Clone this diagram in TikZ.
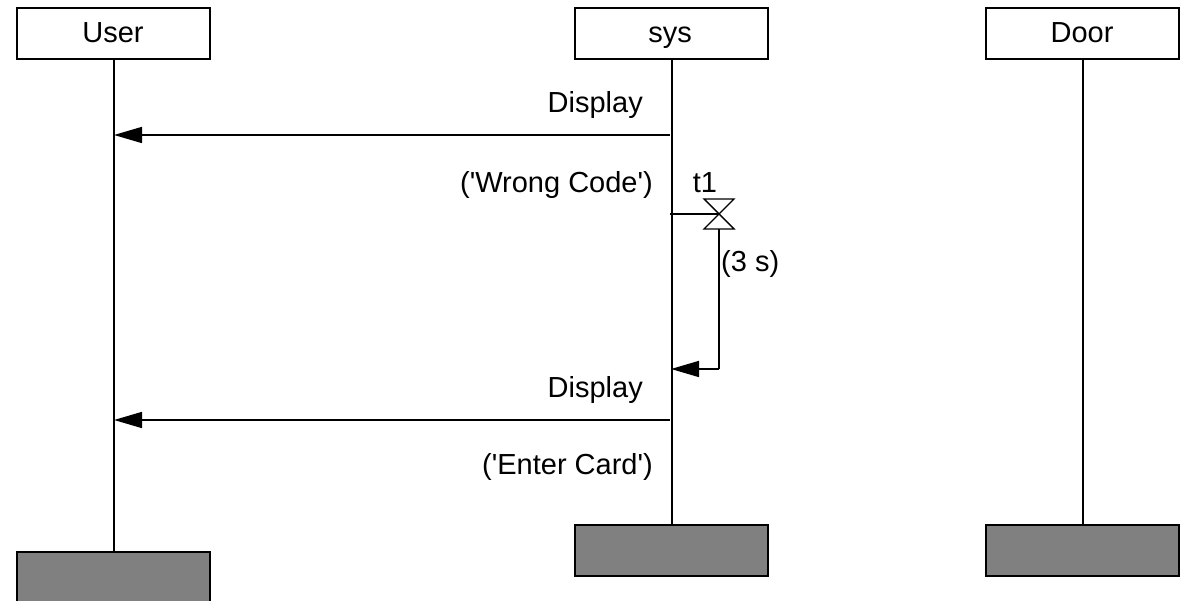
\documentclass[tikz,border=0pt]{standalone}
\usepackage{fontspec}
\setmainfont{Liberation Sans}
\usetikzlibrary{arrows.meta}
\begin{document}
\begin{tikzpicture}[x=1pt,y=-1pt,
  every node/.style={font=\fontsize{29}{34}\selectfont, inner sep=0pt},
  headbox/.style={draw=black, line width=2pt, fill=white, minimum width=193pt, minimum height=51pt, anchor=north west},
  endbox/.style={draw=black, line width=2pt, fill=black!50, minimum width=193pt, minimum height=51pt, anchor=north west},
  life/.style={line width=2pt},
  msg/.style={line width=1.6pt, -{Triangle[length=28pt,width=16pt]}},
  lbl/.style={anchor=base east},
  hourglass/.style={draw=black, line width=1.4pt, fill=white}
]
\useasboundingbox (0,0) rectangle (1184,601);
% heads
\node[headbox] (uh) at (16,7) {};
\node[headbox] (sh) at (574,7) {};
\node[headbox] (dh) at (985,7) {};
\node[anchor=base] at (113,43) {User};
\node[anchor=base] at (670,43) {sys};
\node[anchor=base] at (1082,43) {Door};
% ends
\node[endbox, minimum height=60pt] (ue) at (16,551) {};
\node[endbox] (se) at (574,524) {};
\node[endbox] (de) at (985,524) {};
% lifelines
\draw[life] (uh.south) -- (ue.north);
\draw[life] (sh.south) -- (se.north);
\draw[life] (dh.south) -- (de.north);
% message points
\coordinate (s1) at (670,135);
\coordinate (u1) at (114,135);
\coordinate (s2) at (670,420);
\coordinate (u2) at (114,420);
\coordinate (tstart) at (670,214);
\coordinate (tc) at (719,214);
\coordinate (tbot) at (719,229);
\coordinate (tcorner) at (719,369);
\coordinate (tend) at (671,369);
% messages
\draw[msg] (s1) -- (u1);
\node[lbl] (d1) at (643,113) {Display};
\node[lbl] (w1) at (653,193) {(\textquotesingle Wrong Code\textquotesingle)};
\draw[msg] (s2) -- (u2);
\node[lbl] (d2) at (643,398) {Display};
\node[lbl] (e1) at (653,475) {(\textquotesingle Enter Card\textquotesingle)};
% timer
\draw[line width=1.6pt] (tstart) -- (tc);
\draw[line width=1.6pt] (tbot) -- (tcorner);
\draw[msg] (tcorner) -- (tend);
\draw[hourglass] (704,199) -- (734,199) -- (704,229) -- (734,229) -- cycle;
\node[anchor=base] (t1) at (705,193) {t1};
\node[anchor=base west] (ts) at (721,272) {(3 s)};
\end{tikzpicture}
\end{document}
